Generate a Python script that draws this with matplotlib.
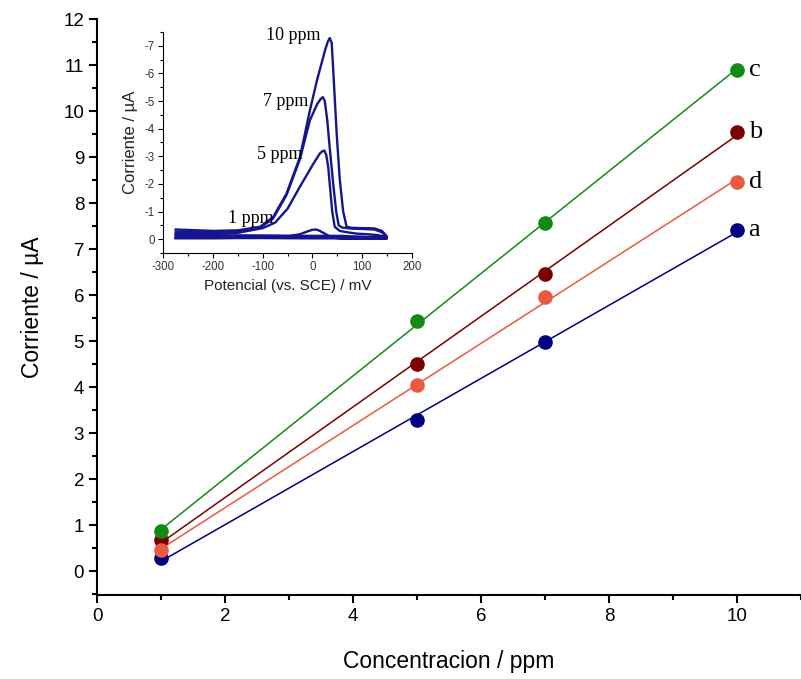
import numpy as np
import matplotlib
matplotlib.use('Agg')
import matplotlib.pyplot as plt
from matplotlib.ticker import MultipleLocator, FuncFormatter

# Calibration data (main plot)
conc = [1, 5, 7, 10]
series_labels = ['a', 'b', 'c', 'd']
current_a = [0.28, 3.28, 4.99, 7.42]
current_b = [0.67, 4.51, 6.45, 9.55]
current_c = [0.87, 5.44, 7.57, 10.90]
current_d = [0.46, 4.05, 5.95, 8.46]
series_colors = {'a': '#000080', 'b': '#7a0000', 'c': '#138a13', 'd': '#ea5a40'}

# Inset voltammograms (potential in mV, current in uA)
E_10 = [-275, -200, -150, -105, -79, -52, -25, -5, 10, 25, 31, 35, 39, 43, 49, 55, 62, 69, 80, 100, 125, 140, 150,
        150, 120, 80, 60, 0, -100, -200, -275]
I_10 = [-0.35, -0.3, -0.32, -0.45, -0.8, -1.65, -2.97, -4.66, -5.8, -6.8, -7.15, -7.28, -7.1, -5.8, -3.8, -2.2, -1.0,
        -0.45, -0.41, -0.4, -0.39, -0.3, -0.1, -0.06, -0.08, -0.1, -0.12, -0.12, -0.13, -0.14, -0.15]
E_7 = [-275, -200, -150, -105, -79, -52, -25, -5, 10, 17, 21, 25, 30, 35, 42, 48, 53, 60, 80, 100, 125, 140, 150,
       150, 120, 80, 60, 0, -100, -200, -275]
I_7 = [-0.28, -0.25, -0.28, -0.42, -0.75, -1.6, -2.9, -4.3, -4.9, -5.08, -5.14, -5.0, -4.3, -3.3, -2.0, -1.0, -0.5,
       -0.42, -0.38, -0.37, -0.35, -0.25, -0.08, -0.05, -0.07, -0.08, -0.1, -0.1, -0.12, -0.13, -0.15]
E_5 = [-275, -200, -150, -100, -75, -50, -25, 2, 15, 20, 24, 28, 32, 36, 40, 45, 55, 70, 90, 110, 130, 145, 150,
       150, 120, 80, 60, 0, -100, -200, -275]
I_5 = [-0.22, -0.2, -0.23, -0.4, -0.6, -1.1, -1.9, -2.73, -3.1, -3.18, -3.21, -3.05, -2.6, -1.8, -1.0, -0.45, -0.3,
       -0.25, -0.2, -0.18, -0.15, -0.1, -0.05, -0.04, -0.05, -0.06, -0.06, -0.07, -0.08, -0.1, -0.12]
E_1 = [-275, -200, -100, -50, -25, -10, 0, 8, 15, 25, 35, 45, 60, 100, 150,
       150, 100, 0, -100, -200, -275]
I_1 = [-0.04, -0.04, -0.06, -0.1, -0.18, -0.28, -0.34, -0.35, -0.3, -0.2, -0.1, -0.05, -0.03, -0.03, -0.03,
       -0.02, -0.03, -0.03, -0.04, -0.04, -0.04]
curve_labels = ['10 ppm', '7 ppm', '5 ppm', '1 ppm']

plt.rcParams['font.family'] = ['Liberation Sans', 'DejaVu Sans']

fig = plt.figure(figsize=(8.01, 6.79), dpi=100)
ax = fig.add_axes([0.1215, 0.1237, 0.8785, 0.848])

data = {'a': current_a, 'b': current_b, 'c': current_c, 'd': current_d}
xfit = np.array([1, 10])
for lab in series_labels:
    y = data[lab]
    col = series_colors[lab]
    m, b0 = np.polyfit(conc, y, 1)
    ax.plot(xfit, m * xfit + b0, color=col, lw=1.1, zorder=2)
    ax.plot(conc, y, 'o', color=col, ms=9.5, zorder=3)
    ax.text(conc[-1] + 0.18, y[-1], lab, family='Liberation Serif', fontsize=19,
            va='center', ha='left')

ax.set_xlim(0, 11)
ax.set_ylim(-0.52, 12)
ax.xaxis.set_major_locator(MultipleLocator(2))
ax.xaxis.set_minor_locator(MultipleLocator(1))
ax.yaxis.set_major_locator(MultipleLocator(1))
ax.yaxis.set_minor_locator(MultipleLocator(0.5))
for s in ['top', 'right']:
    ax.spines[s].set_visible(False)
for s in ['left', 'bottom']:
    ax.spines[s].set_linewidth(1.5)
ax.tick_params(which='major', direction='out', length=6, width=1.5, labelsize=13.5, colors='black')
ax.tick_params(which='minor', direction='out', length=3.5, width=1.5)
ax.set_xlabel('Concentracion / ppm', fontsize=16.5, labelpad=18)
ax.set_ylabel('Corriente / µA', fontsize=16.5, labelpad=14)

# Inset
ins = fig.add_axes([0.2039, 0.6274, 0.3101, 0.3255])
for E, I in [(E_10, I_10), (E_7, I_7), (E_5, I_5), (E_1, I_1)]:
    ins.plot(E, I, color='#15158f', lw=1.7, solid_joinstyle='round')
ins.set_xlim(-300, 200)
ins.set_ylim(0.5, -7.5)
ins.xaxis.set_major_locator(MultipleLocator(100))
ins.xaxis.set_minor_locator(MultipleLocator(50))
ins.yaxis.set_major_locator(MultipleLocator(1))
ins.yaxis.set_minor_locator(MultipleLocator(0.5))
ins.yaxis.set_major_formatter(FuncFormatter(lambda v, p: '%d' % v))
ins.xaxis.set_major_formatter(FuncFormatter(lambda v, p: '%d' % v))
for s in ['top', 'right']:
    ins.spines[s].set_visible(False)
for s in ['left', 'bottom']:
    ins.spines[s].set_linewidth(0.8)
ins.tick_params(which='major', direction='out', length=3.5, width=0.8, labelsize=8.3,
                labelcolor='#333333', pad=2.5)
ins.tick_params(which='minor', direction='out', length=2, width=0.8)
ins.set_xlabel('Potencial (vs. SCE) / mV', fontsize=11, labelpad=4, color='#222222')
ins.set_ylabel('Corriente / µA', fontsize=12, labelpad=5, color='#222222')
ins.patch.set_alpha(0)

label_pos = [(-93, -7.36), (-99, -5.0), (-112, -3.07), (-170, -0.76)]
for txt, (xx, yy) in zip(curve_labels, label_pos):
    ins.text(xx, yy, txt, family='Liberation Serif', fontsize=13, ha='left', va='center')

fig.savefig('out.png', dpi=100)
